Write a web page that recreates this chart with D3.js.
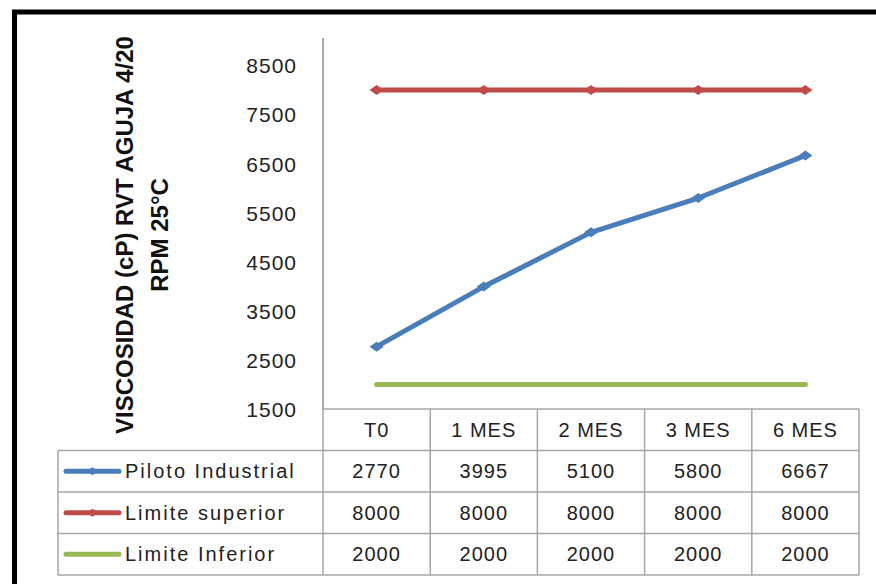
<!DOCTYPE html>
<html>
<head>
<meta charset="utf-8">
<script src="https://cdn.jsdelivr.net/npm/d3@7"></script>
<style>
  html, body { margin: 0; padding: 0; background: #fff; }
  svg { display: block; }
  text { font-family: "Liberation Sans", Arial, sans-serif; }
</style>
</head>
<body>
<svg id="chart" width="876" height="584"></svg>
<script>
// ---- data ----
const categories = ["T0", "1 MES", "2 MES", "3 MES", "6 MES"];
const seriesNames = ["Piloto Industrial", "Limite superior", "Limite Inferior"];
const pilotoIndustrial = [2770, 3995, 5100, 5800, 6667];
const limiteSuperior = [8000, 8000, 8000, 8000, 8000];
const limiteInferior = [2000, 2000, 2000, 2000, 2000];
const yTicks = [1500, 2500, 3500, 4500, 5500, 6500, 7500, 8500];
const yMin = 1500, yMax = 9000;
const titleLines = ["VISCOSIDAD (cP) RVT AGUJA 4/20", "RPM 25°C"];

const seriesColors = ["#4A7EBB", "#BE4B48", "#98B954"];
const seriesMarkers = [true, true, false];
const seriesData = [pilotoIndustrial, limiteSuperior, limiteInferior];

// ---- layout ----
const svg = d3.select("#chart");
const plotLeft = 323, plotRight = 859, plotTop = 41, plotBottom = 409;
const rowH = 41.5;
const legendLeft = 58;

const x = d3.scaleBand().domain(categories).range([plotLeft, plotRight]).padding(0);
const xc = c => x(c) + x.bandwidth() / 2;
const y = d3.scaleLinear().domain([yMin, yMax]).range([plotBottom, plotTop]);

// frame
svg.append("rect")
  .attr("x", 14.5).attr("y", 12).attr("width", 900).attr("height", 620)
  .attr("fill", "none").attr("stroke", "#000").attr("stroke-width", 5);

// y axis
const yAxis = d3.axisLeft(y).tickValues(yTicks).tickSize(0).tickSizeOuter(0).tickPadding(26)
  .tickFormat(d3.format("d"));
const gy = svg.append("g").attr("transform", `translate(${plotLeft},0)`).call(yAxis);
gy.select(".domain").attr("d", `M0,${plotBottom}V38`)
  .attr("stroke", "#8c8c8c").attr("stroke-width", 1.5);
gy.selectAll(".tick text")
  .attr("font-family", "Liberation Sans, Arial, sans-serif")
  .attr("font-size", 21).attr("fill", "#222").attr("letter-spacing", 1)
  .attr("dy", "0.35em");

// y title
const title = svg.append("text")
  .attr("transform", "translate(133,235) rotate(-90)")
  .attr("text-anchor", "middle")
  .attr("font-size", 24).attr("font-weight", "bold").attr("fill", "#111");
title.append("tspan").attr("x", 0).attr("y", 0).text(titleLines[0]);
title.append("tspan").attr("x", 0).attr("y", 35).text(titleLines[1]);

// lines
const line = d3.line().x((d, i) => xc(categories[i])).y(d => y(d));
seriesData.forEach((vals, si) => {
  svg.append("path")
    .datum(vals)
    .attr("d", line)
    .attr("fill", "none")
    .attr("stroke", seriesColors[si])
    .attr("stroke-width", 5)
    .attr("stroke-linecap", "round")
    .attr("stroke-linejoin", "round");
  if (seriesMarkers[si]) {
    svg.append("g").selectAll("path")
      .data(vals)
      .join("path")
      .attr("transform", (d, i) => `translate(${xc(categories[i])},${y(d)})`)
      .attr("d", "M-7,0L0,-5L7,0L0,5Z")
      .attr("fill", seriesColors[si])
      .attr("stroke", "none");
  }
});

// ---- data table ----
const grid = "#a6a6a6";
const tbl = svg.append("g");
const nRows = seriesNames.length;
tbl.append("line").attr("x1", plotLeft).attr("x2", plotRight)
  .attr("y1", plotBottom).attr("y2", plotBottom).attr("stroke", grid).attr("stroke-width", 1.5);
for (let r = 1; r <= nRows + 1; r++) {
  const yy = plotBottom + r * rowH;
  tbl.append("line").attr("x1", legendLeft).attr("x2", plotRight)
    .attr("y1", yy).attr("y2", yy).attr("stroke", grid).attr("stroke-width", 1.5);
}
categories.forEach((c, i) => {
  tbl.append("line").attr("x1", x(c)).attr("x2", x(c))
    .attr("y1", plotBottom).attr("y2", plotBottom + (nRows + 1) * rowH)
    .attr("stroke", grid).attr("stroke-width", 1.5);
});
tbl.append("line").attr("x1", plotRight).attr("x2", plotRight)
  .attr("y1", plotBottom).attr("y2", plotBottom + (nRows + 1) * rowH)
  .attr("stroke", grid).attr("stroke-width", 1.5);
tbl.append("line").attr("x1", legendLeft).attr("x2", legendLeft)
  .attr("y1", plotBottom + rowH).attr("y2", plotBottom + (nRows + 1) * rowH)
  .attr("stroke", grid).attr("stroke-width", 1.5);

// header labels
tbl.selectAll("text.hdr").data(categories).join("text")
  .attr("class", "hdr")
  .attr("x", d => xc(d)).attr("y", plotBottom + rowH / 2)
  .attr("dy", "0.36em").attr("text-anchor", "middle")
  .attr("font-size", 20).attr("letter-spacing", 1).attr("fill", "#222")
  .text(d => d);

// rows
seriesData.forEach((vals, si) => {
  const cy = plotBottom + (si + 1) * rowH + rowH / 2;
  tbl.append("line").attr("x1", 66).attr("x2", 119).attr("y1", cy).attr("y2", cy)
    .attr("stroke", seriesColors[si]).attr("stroke-width", 5).attr("stroke-linecap", "round");
  if (seriesMarkers[si]) {
    tbl.append("path").attr("transform", `translate(92.5,${cy})`)
      .attr("d", "M-6,0L0,-4L6,0L0,4Z").attr("fill", seriesColors[si]);
  }
  tbl.append("text").attr("x", 125).attr("y", cy).attr("dy", "0.36em")
    .attr("font-size", 20).attr("letter-spacing", 2).attr("fill", "#222")
    .text(seriesNames[si]);
  tbl.selectAll(null).data(vals).join("text")
    .attr("x", (d, i) => xc(categories[i])).attr("y", cy).attr("dy", "0.36em")
    .attr("text-anchor", "middle")
    .attr("font-size", 20).attr("letter-spacing", 1).attr("fill", "#222")
    .text(d => d);
});
</script>
</body>
</html>
